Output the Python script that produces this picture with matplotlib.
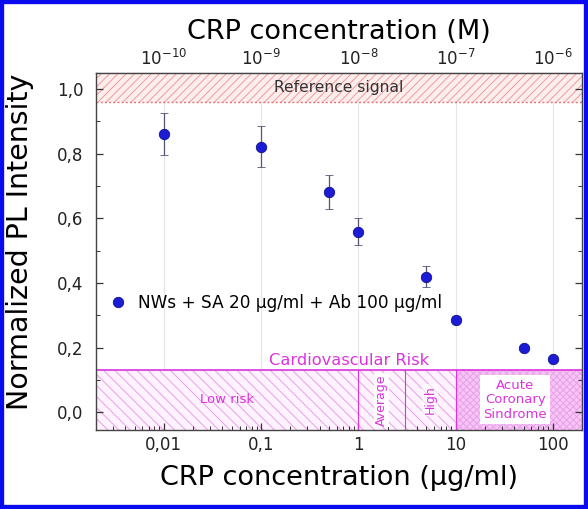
import matplotlib
matplotlib.use("Agg")
import matplotlib.pyplot as plt
from matplotlib.patches import Rectangle
from matplotlib.lines import Line2D
from matplotlib.ticker import FixedLocator, FixedFormatter, LogLocator, MultipleLocator, NullFormatter

plt.rcParams['font.family'] = ['DejaVu Sans']
plt.rcParams['axes.unicode_minus'] = False
plt.rcParams['hatch.linewidth'] = 0.7

# ---- data ----
conc_ugml = [0.01, 0.1, 0.5, 1, 5, 10, 50, 100]
pl_intensity = [0.860, 0.822, 0.682, 0.558, 0.420, 0.287, 0.200, 0.164]
pl_error = [0.065, 0.062, 0.053, 0.042, 0.031, 0.010, 0.0, 0.0]
series_label = "NWs + SA 20 \u00b5g/ml + Ab 100 \u00b5g/ml"

x_ticks = [0.01, 0.1, 1, 10, 100]
x_ticklabels = ["0,01", "0,1", "1", "10", "100"]
y_ticks = [0.0, 0.2, 0.4, 0.6, 0.8, 1.0]
y_ticklabels = ["0,0", "0,2", "0,4", "0,6", "0,8", "1,0"]
top_ticks = [1e-10, 1e-9, 1e-8, 1e-7, 1e-6]
top_ticklabels = [r"$\mathregular{10^{-10}}$", r"$\mathregular{10^{-9}}$", r"$\mathregular{10^{-8}}$",
                  r"$\mathregular{10^{-7}}$", r"$\mathregular{10^{-6}}$"]
ugml_to_M = 1e-8

xlim = (0.002, 200)
ylim = (-0.055, 1.05)

ref_band_low = 0.96
ref_label = "Reference signal"
risk_top = 0.132
risk_title = "Cardiovascular Risk"
risk_title_x = 0.8
risk_edges = [0.002, 1, 3, 10, 200]
risk_labels = ["Low risk", "Average", "High", "Acute\nCoronary\nSindrome"]
acute_label_x = 41

magenta = "#dd33dd"
pink_hatch = "#e9a0e9"

fig = plt.figure(figsize=(5.88, 5.09), dpi=100)
ax = fig.add_axes([0.163, 0.155, 0.827, 0.702])
ax.set_xscale('log')
ax.set_xlim(*xlim)
ax.set_ylim(*ylim)

# vertical grid
for xt in x_ticks:
    ax.axvline(xt, color="#e6e6e6", lw=0.8, zorder=0)

# reference band
ax.add_patch(Rectangle((xlim[0], ref_band_low), xlim[1] - xlim[0], ylim[1] - ref_band_low,
                       facecolor="#fdeeee", edgecolor="#ef9a9a", hatch="////", lw=0, zorder=1))
ax.axhline(ref_band_low, color="#e57373", lw=1.0, ls=(0, (1.5, 1.5)), zorder=2)
ax.text((xlim[0] * xlim[1]) ** 0.5, (ref_band_low + ylim[1]) / 2, ref_label, ha='center',
        va='center', fontsize=11.2, color="#333333", zorder=3)

# risk bands
hatches = ["\\\\\\", "\\\\\\", "\\\\\\", "xxxxx"]
faces = ["#fdf2fd", "#fdf2fd", "#fdf2fd", "#f7c6f7"]
for i, lab in enumerate(risk_labels):
    x0, x1 = risk_edges[i], risk_edges[i + 1]
    ax.add_patch(Rectangle((x0, ylim[0]), x1 - x0, risk_top - ylim[0], facecolor=faces[i],
                           edgecolor=pink_hatch, hatch=hatches[i], lw=0, zorder=1))
    if i > 0:
        ax.plot([x0, x0], [ylim[0], risk_top], color=magenta, lw=0.8, zorder=2)
ax.axhline(risk_top, color=magenta, lw=1.2, zorder=2)

ymid = (ylim[0] + risk_top) / 2
ax.text((risk_edges[0] * risk_edges[1]) ** 0.5, ymid, risk_labels[0], ha='center', va='center',
        fontsize=9.5, color=magenta, zorder=3)
ax.text((risk_edges[1] * risk_edges[2]) ** 0.5, ymid, risk_labels[1], ha='center', va='center',
        fontsize=9, color=magenta, rotation=90, zorder=3,
        bbox=dict(facecolor='white', edgecolor='none', pad=1.0, alpha=0.9))
ax.text((risk_edges[2] * risk_edges[3]) ** 0.5, ymid, risk_labels[2], ha='center', va='center',
        fontsize=9, color=magenta, rotation=90, zorder=3,
        bbox=dict(facecolor='white', edgecolor='none', pad=1.0, alpha=0.6))
ax.text(acute_label_x, ymid, risk_labels[3], ha='center', va='center', fontsize=9.5,
        color=magenta, linespacing=1.15, zorder=3,
        bbox=dict(facecolor='white', edgecolor='none', pad=2.5))
ax.text(risk_title_x, risk_top + 0.004, risk_title, ha='center', va='bottom', fontsize=11.7,
        color=magenta, zorder=3)

# data
ax.errorbar(conc_ugml, pl_intensity, yerr=pl_error, fmt='o', color='#1c1cd6', ms=7.5,
            mec='#10108a', mew=0.6, ecolor='#555577', elinewidth=0.9, capsize=3, capthick=0.8,
            zorder=5)
handle = Line2D([], [], ls='none', marker='o', color='#1c1cd6', ms=7.5, mec='#10108a', mew=0.6)
ax.legend([handle], [series_label], loc='center left', bbox_to_anchor=(0.0, 0.356),
          frameon=False, fontsize=12.2, handletextpad=0.5, handlelength=1.4, borderaxespad=0.2)

# axes styling
ax.xaxis.set_major_locator(FixedLocator(x_ticks))
ax.xaxis.set_major_formatter(FixedFormatter(x_ticklabels))
ax.xaxis.set_minor_locator(LogLocator(base=10, subs=range(2, 10), numticks=20))
ax.xaxis.set_minor_formatter(NullFormatter())
ax.set_yticks(y_ticks)
ax.set_yticklabels(y_ticklabels)
ax.yaxis.set_minor_locator(MultipleLocator(0.1))
ax.tick_params(axis='both', which='major', direction='in', length=5, width=0.9, labelsize=12,
               right=True, colors='#333333', labelcolor='#222222')
ax.tick_params(axis='both', which='minor', direction='in', length=3, width=0.7, right=True,
               colors='#333333')
ax.tick_params(axis='x', which='both', top=False)
ax.tick_params(axis='x', which='major', pad=4)
ax.tick_params(axis='y', which='major', pad=9)
for s in ax.spines.values():
    s.set_color('#444444')
    s.set_linewidth(1.0)

ax.set_xlabel("CRP concentration (\u00b5g/ml)", fontsize=19.5)
ax.xaxis.set_label_coords(0.5, -0.098)
ax.set_ylabel("Normalized PL Intensity", fontsize=20.5)
ax.yaxis.set_label_coords(-0.128, 0.528)

sec = ax.secondary_xaxis('top', functions=(lambda x: x * ugml_to_M, lambda x: x / ugml_to_M))
sec.set_xticks(top_ticks)
sec.set_xticklabels(top_ticklabels)
sec.xaxis.set_minor_locator(LogLocator(base=10, subs=range(2, 10), numticks=20))
sec.xaxis.set_minor_formatter(NullFormatter())
sec.tick_params(axis='x', which='major', direction='in', length=5, width=0.9, labelsize=12,
                colors='#333333', labelcolor='#222222', pad=3)
sec.tick_params(axis='x', which='minor', direction='in', length=3, width=0.7, colors='#333333')
sec.set_xlabel("CRP concentration (M)", fontsize=19.5, labelpad=7)

# blue frame around the figure
fig.patches.append(Rectangle((0, 0), 1, 1, transform=fig.transFigure, fill=False,
                             edgecolor='#0a0aee', lw=6, zorder=10))

fig.savefig("out.png", dpi=100)
